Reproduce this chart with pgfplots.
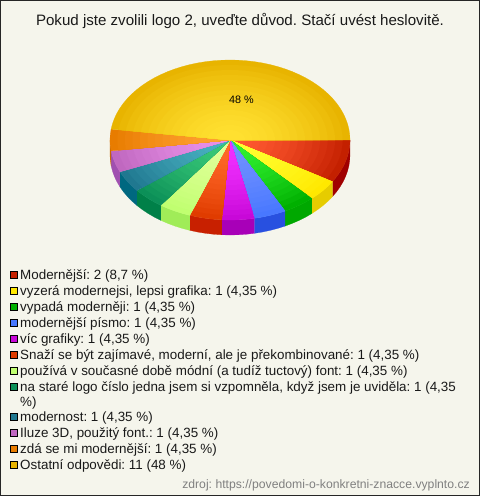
\documentclass[border=0pt]{standalone}
\usepackage{pgfplots}
\pgfplotsset{compat=1.18}
\usepackage{fontspec}
\setmainfont{Liberation Sans}
\frenchspacing
\definecolor{bgc}{HTML}{F5F5EC}
\definecolor{r1}{HTML}{C42000}\definecolor{r2}{HTML}{FF5830}\definecolor{r3}{HTML}{A00000}
\definecolor{y1}{HTML}{FFE800}\definecolor{y2}{HTML}{FFFF30}\definecolor{y3}{HTML}{E6CC00}
\definecolor{g1}{HTML}{00B000}\definecolor{g2}{HTML}{30F030}\definecolor{g3}{HTML}{00A800}
\definecolor{b1}{HTML}{4878FF}\definecolor{b2}{HTML}{7090FF}\definecolor{b3}{HTML}{2850E0}
\definecolor{m1}{HTML}{C808D8}\definecolor{m2}{HTML}{F030FF}\definecolor{m3}{HTML}{A800B8}
\definecolor{o1}{HTML}{E03C00}\definecolor{o2}{HTML}{FF6828}\definecolor{o3}{HTML}{C82000}
\definecolor{l1}{HTML}{C0FF70}\definecolor{l2}{HTML}{E0FF98}\definecolor{l3}{HTML}{A0EC58}
\definecolor{s1}{HTML}{0C9058}\definecolor{s2}{HTML}{38C878}\definecolor{s3}{HTML}{008048}
\definecolor{t1}{HTML}{207890}\definecolor{t2}{HTML}{48B0C0}\definecolor{t3}{HTML}{006880}
\definecolor{p1}{HTML}{C068C0}\definecolor{p2}{HTML}{E890E8}\definecolor{p3}{HTML}{A050B0}
\definecolor{n1}{HTML}{E87C00}\definecolor{n2}{HTML}{FFA030}\definecolor{n3}{HTML}{C86800}
\definecolor{a1}{HTML}{E8B400}\definecolor{a2}{HTML}{FFE030}\definecolor{a3}{HTML}{C89800}
% ellipse geometry of the pie, in pixels
\newcommand\arcpts[4]{%
  \pgfmathtruncatemacro\nst{max(1,ceil(abs(#2-#1)/4))}%
  \foreach \i in {0,...,\nst}{%
    \pgfmathsetmacro\tht{#1+(#2-#1)*\i/\nst}%
    \pgfmathsetmacro\ppx{230+120*#3*cos(\tht)}%
    \pgfmathsetmacro\ppy{140+80*#3*sin(\tht)+#4}%
    \xdef\clist{\clist (\ppx,\ppy)}%
  }%
}
% #1 answers before this slice, #2 answers in this slice (of 23), #3 colour prefix
\newcommand\slice[3]{%
  \pgfmathsetmacro\aone{#1*360/23}%
  \pgfmathsetmacro\atwo{(#1+#2)*360/23}%
  \pgfmathsetmacro\aside{min(\atwo,180)}%
  \ifdim\aone pt<180pt
    \gdef\clist{}%
    \arcpts{\aone}{\aside}{1}{0}%
    \arcpts{\aside}{\aone}{1}{15}%
    \edef\tmp{\noexpand\addplot[forget plot,draw=#33,line width=0.2pt,fill=#33] coordinates {\clist};}%
    \tmp
  \fi
  \foreach \k in {0,...,15}{%
    \pgfmathsetmacro\rad{1-\k/16}%
    \pgfmathtruncatemacro\pct{100*(1-\k/15)^1.5}%
    \gdef\clist{(230,140)}%
    \arcpts{\aone}{\atwo}{\rad}{0}%
    \edef\tmp{\noexpand\addplot[forget plot,draw=#31!\pct!#32,line width=0.25pt,fill=#31!\pct!#32] coordinates {\clist};}%
    \tmp
  }%
}
\newcommand\legrow[3]{%
  \draw[black,line width=0.8pt,fill=#2] (axis cs:10,#1-8) rectangle (axis cs:17,#1-1);
  \node[anchor=base west,inner sep=0pt,font=\fontsize{13.4}{15}\selectfont,text=black!90] at (axis cs:20,#1) {#3};
}
\begin{document}
\begin{tikzpicture}[x=1pt,y=1pt]
\fill[bgc] (0,0) rectangle (480pt,496pt);
\begin{axis}[at={(0,0)},anchor=south west,width=480pt,height=496pt,scale only axis,
  xmin=0,xmax=480,ymin=0,ymax=496,y dir=reverse,hide axis,clip=false]
\slice{0}{2}{r}
\slice{2}{1}{y}
\slice{3}{1}{g}
\slice{4}{1}{b}
\slice{5}{1}{m}
\slice{6}{1}{o}
\slice{7}{1}{l}
\slice{8}{1}{s}
\slice{9}{1}{t}
\slice{10}{1}{p}
\slice{11}{1}{n}
\slice{12}{11}{a}
\draw[black!85,line width=1pt] (axis cs:0.5,0.5) rectangle (axis cs:479.5,495.5);
\node[anchor=base,inner sep=0pt,font=\fontsize{15.1}{18}\selectfont,text=black!90] at (axis cs:240,25) {Pokud jste zvolili logo 2, uveďte důvod. Stačí uvést heslovitě.};
\node[anchor=center,inner sep=0pt,font=\fontsize{10.8}{12}\selectfont] at (axis cs:241.5,100) {48 \%};
\legrow{279}{r1}{Modernější: 2 (8,7 \%)}
\legrow{295}{y1}{vyzerá modernejsi, lepsi grafika: 1 (4,35 \%)}
\legrow{311}{g1}{vypadá moderněji: 1 (4,35 \%)}
\legrow{327}{b1}{modernější písmo: 1 (4,35 \%)}
\legrow{343}{m1}{víc grafiky: 1 (4,35 \%)}
\legrow{359}{o1}{Snaží se být zajímavé, moderní, ale je překombinované: 1 (4,35 \%)}
\legrow{375}{l1}{používá v současné době módní (a tudíž tuctový) font: 1 (4,35 \%)}
\legrow{391}{s1}{na staré logo číslo jedna jsem si vzpomněla, když jsem je uviděla: 1 (4,35}
\node[anchor=base west,inner sep=0pt,font=\fontsize{13.4}{15}\selectfont,text=black!90] at (axis cs:20,406) {\%)};
\legrow{421}{t1}{modernost: 1 (4,35 \%)}
\legrow{437}{p1}{Iluze 3D, použitý font.: 1 (4,35 \%)}
\legrow{453}{n1}{zdá se mi modernější: 1 (4,35 \%)}
\legrow{469}{a1}{Ostatní odpovědi: 11 (48 \%)}
\node[anchor=base east,inner sep=0pt,font=\fontsize{12.2}{14}\selectfont,text=black!50] at (axis cs:470,488) {zdroj: https://povedomi-o-konkretni-znacce.vyplnto.cz};
\end{axis}
\end{tikzpicture}
\end{document}
